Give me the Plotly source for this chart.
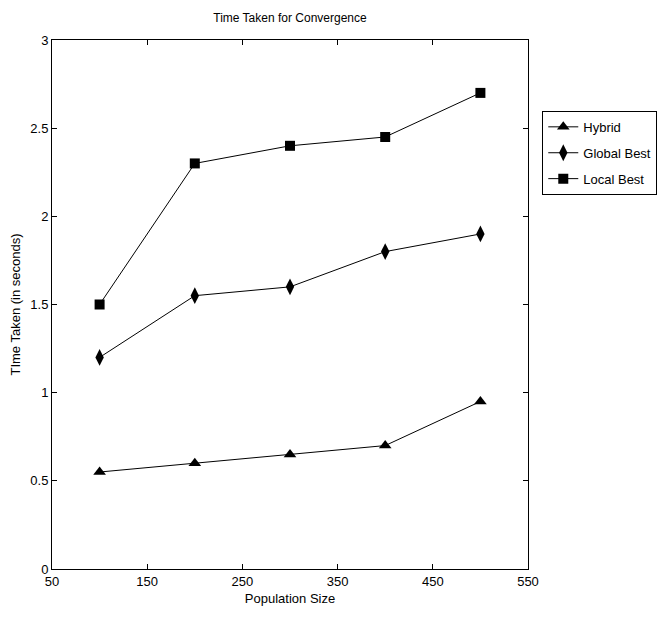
import plotly.graph_objects as go

pop_size = [100, 200, 300, 400, 500]
hybrid = [0.55, 0.60, 0.65, 0.70, 0.95]
global_best = [1.20, 1.55, 1.60, 1.80, 1.90]
local_best = [1.50, 2.30, 2.40, 2.45, 2.70]
x_ticks = [50, 150, 250, 350, 450, 550]
y_ticks = [0, 0.5, 1, 1.5, 2, 2.5, 3]
y_tick_labels = ["0", "0.5", "1", "1.5", "2", "2.5", "3"]

narrow = "Liberation Sans Narrow, Arial Narrow, Liberation Sans, Arial, sans-serif"

fig = go.Figure()
series = [
    ("Hybrid", hybrid, "triangle-up", 11),
    ("Global Best", global_best, "diamond-tall", 12),
    ("Local Best", local_best, "square", 10),
]
for name, vals, sym, sz in series:
    fig.add_trace(go.Scatter(
        x=pop_size, y=vals, name=name, mode="lines+markers", legendgroup=name,
        line=dict(color="black", width=1),
        marker=dict(symbol=sym, size=sz, color="black"),
    ))

axis_common = dict(
    showgrid=False, zeroline=False, showline=True, linecolor="black", linewidth=1,
    mirror="ticks", ticks="inside", ticklen=5, tickcolor="black", automargin=False,
    tickfont=dict(family=narrow, size=13, color="black"),
)
fig.update_xaxes(range=[50, 550], tickvals=x_ticks, title=dict(text="Population Size", font=dict(family=narrow, size=13, color="black"), standoff=6), **axis_common)
fig.update_yaxes(range=[0, 3], tickvals=y_ticks, ticktext=y_tick_labels, title=dict(text="TIme Taken (in seconds)", font=dict(family="Liberation Sans, Arial, sans-serif", size=13, color="black"), standoff=12), **axis_common)

W, H = 657, 613
fig.update_layout(
    width=W, height=H,
    margin=dict(l=44, r=137, t=32, b=52, autoexpand=False),
    paper_bgcolor="white", plot_bgcolor="white",
    title=dict(text="Time Taken for Convergence", x=(0.5 * (44 + 520)) / W, xanchor="center", y=1 - 10 / H, yanchor="middle",
               font=dict(family=narrow, size=12, color="black")),
    showlegend=True,
    legend=dict(x=1.03, y=0.866, xanchor="left", yanchor="top",
                bordercolor="black", borderwidth=1, bgcolor="white",
                font=dict(family=narrow, size=13, color="black"),
                itemwidth=30, tracegroupgap=6),
)

fig.write_html("out.html")
